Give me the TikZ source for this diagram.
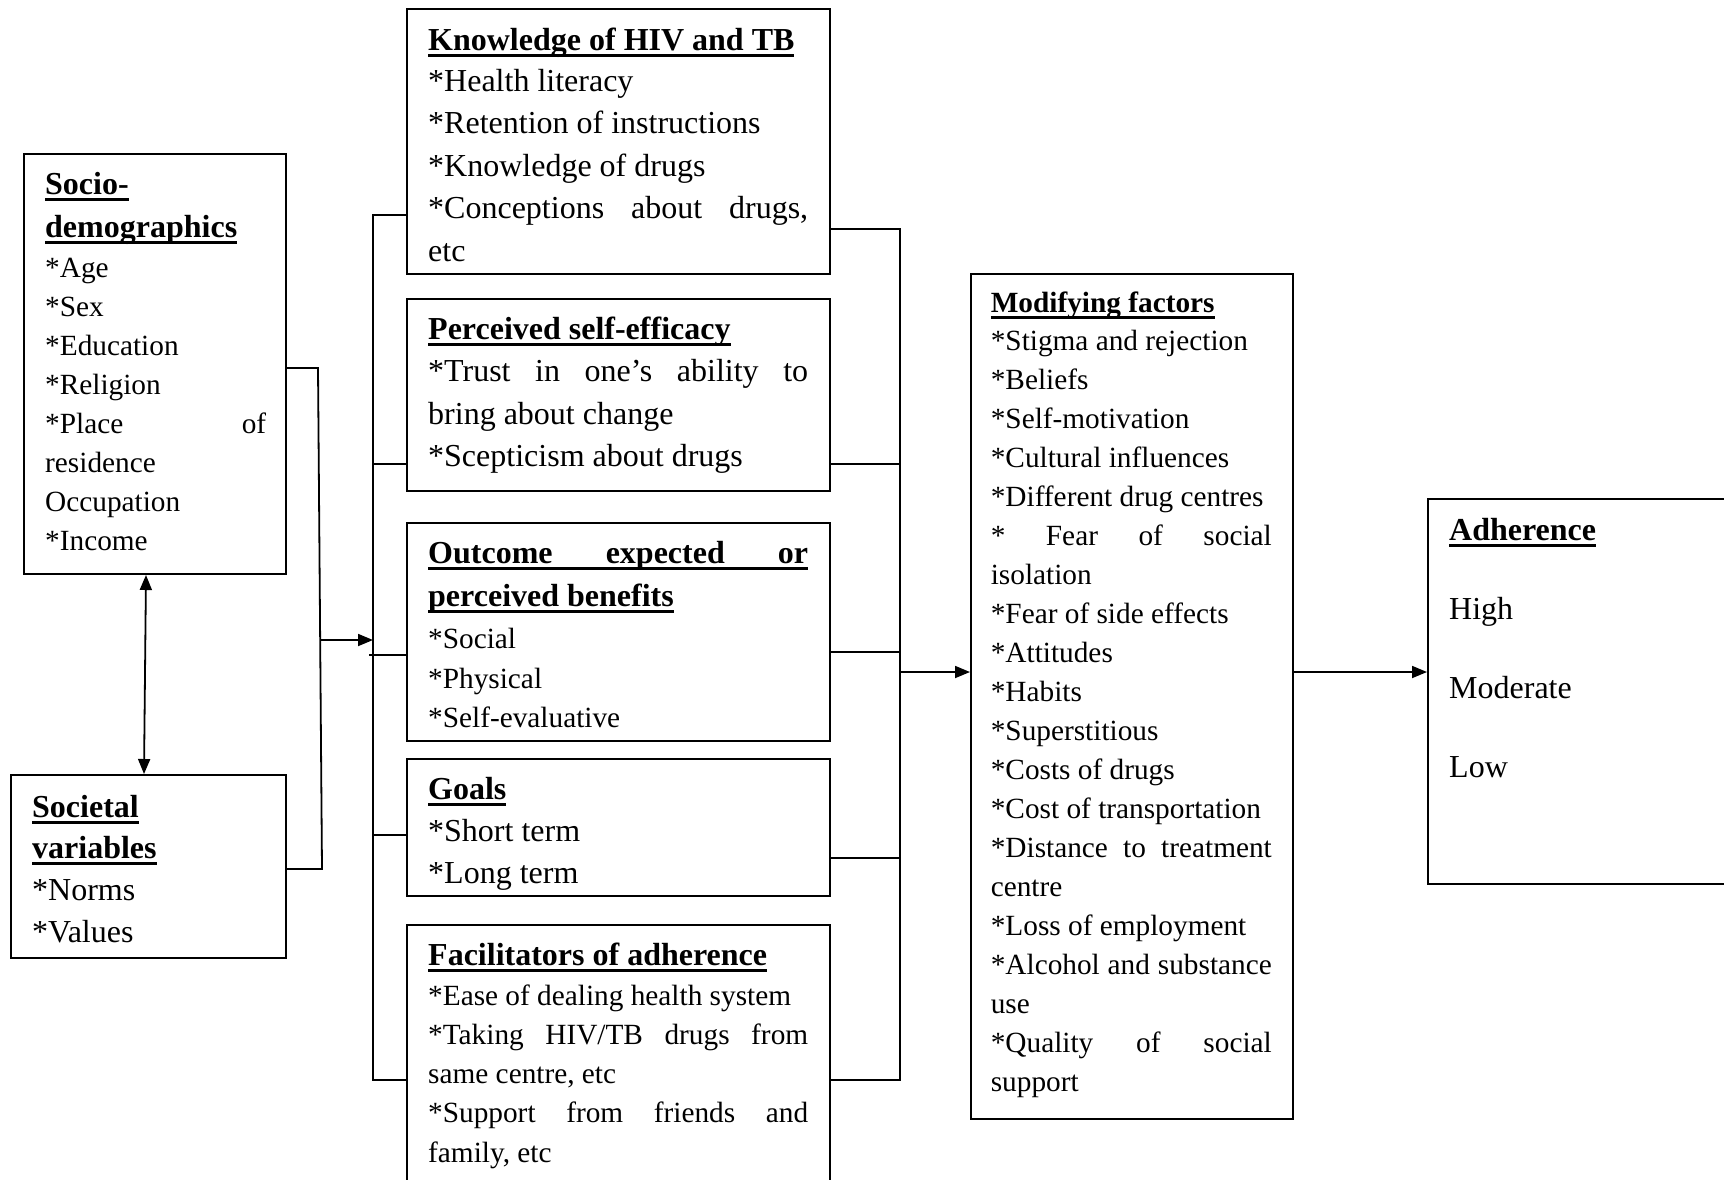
\documentclass[tikz,border=0pt]{standalone}
\usepackage{fontspec}
\setmainfont{Liberation Serif}
\usetikzlibrary{arrows.meta}
\newcommand\mkline[3]{{\fontsize{#1}{#2}\selectfont\spaceskip=0pt\xspaceskip=0pt\leavevmode #3\par}}
\newcommand\ulbf[1]{\setbox0=\hbox{\bfseries #1}\rlap{\rule[-0.23em]{\wd0}{0.11em}}\box0}
\newcommand\ulbfj[2]{\rlap{\rule[-0.23em]{#1}{0.11em}}\hbox to #1{\bfseries #2}}
\newcommand\jst[2]{\hbox to #1{#2}}
\tikzset{
  box/.style={draw, line width=2pt, inner sep=0pt},
  txt/.style={anchor=base west, inner sep=0pt, text width=#1},
  conn/.style={line width=1.8pt},
  arr/.style={line width=1.8pt, -{Triangle[length=15pt,width=12pt]}},
  darr/.style={line width=1.8pt, {Triangle[length=15pt,width=12pt]}-{Triangle[length=15pt,width=12pt]}}
}
\begin{document}
\begin{tikzpicture}[x=1pt,y=-1pt]
\useasboundingbox (0,0) rectangle (1724,1179);
\clip (0,0) rectangle (1724,1179);
\fill[white] (0,0) rectangle (1724,1179);

% boxes
\node[box, minimum width=262pt, minimum height=420pt] (socio) at (155,364) {};
\node[box, minimum width=275pt, minimum height=183pt] (societal) at (148.5,866.5) {};
\node[box, minimum width=423pt, minimum height=265pt] (know) at (618.5,141.5) {};
\node[box, minimum width=423pt, minimum height=192pt] (perc) at (618.5,395) {};
\node[box, minimum width=423pt, minimum height=218pt] (outc) at (618.5,632) {};
\node[box, minimum width=423pt, minimum height=137pt] (goals) at (618.5,827.5) {};
\node[box, minimum width=423pt, minimum height=295pt] (facil) at (618.5,1072.5) {};
\node[box, minimum width=322pt, minimum height=845pt] (modif) at (1132,696.5) {};
\node[box, minimum width=332pt, minimum height=385pt] (adher) at (1594,691.5) {};

% texts
\node[txt=224pt] (sociot) at (45,194) {\parskip=0pt
\mkline{32}{32}{\ulbf{Socio-}}
\mkline{32}{43}{\ulbf{demographics}}
\mkline{29.3}{40}{*Age}
\mkline{29.3}{39.1}{*Sex}
\mkline{29.3}{39.1}{*Education}
\mkline{29.3}{39.1}{*Religion}
\mkline{29.3}{39.1}{\jst{221pt}{*Place\hfill of}}
\mkline{29.3}{39.1}{residence}
\mkline{29.3}{39.1}{Occupation}
\mkline{29.3}{39.1}{*Income}};

\node[txt=240pt] (societalt) at (32,817) {\parskip=0pt
\mkline{32}{32}{\ulbf{Societal}}
\mkline{32}{41}{\ulbf{variables}}
\mkline{32}{42}{*Norms}
\mkline{32}{42}{*Values}};

\node[txt=383pt] (knowt) at (428,50) {\parskip=0pt
\mkline{32}{32}{\ulbf{Knowledge of HIV and TB}}
\mkline{32}{41}{*Health literacy}
\mkline{32}{42.5}{*Retention of instructions}
\mkline{32}{42.5}{*Knowledge of drugs}
\mkline{32}{42.5}{\jst{380pt}{*Conceptions\hfill about\hfill drugs,}}
\mkline{32}{42.5}{etc}};

\node[txt=383pt] (perct) at (428,339) {\parskip=0pt
\mkline{32}{32}{\ulbf{Perceived self-efficacy}}
\mkline{32}{42.5}{\jst{380pt}{*Trust\hfill in\hfill one’s\hfill ability\hfill to}}
\mkline{32}{42.5}{bring about change}
\mkline{32}{42.5}{*Scepticism about drugs}};

\node[txt=383pt] (outct) at (428,563) {\parskip=0pt
\mkline{32}{32}{\ulbfj{380pt}{Outcome\hfill expected\hfill or}}
\mkline{32}{43}{\ulbf{perceived benefits}}
\mkline{29.3}{42}{*Social}
\mkline{29.3}{40}{*Physical}
\mkline{29.3}{39}{*Self-evaluative}};

\node[txt=383pt] (goalst) at (428,799) {\parskip=0pt
\mkline{32}{32}{\ulbf{Goals}}
\mkline{32}{42}{*Short term}
\mkline{32}{42}{*Long term}};

\node[txt=383pt] (facilt) at (428,965) {\parskip=0pt
\mkline{32}{32}{\ulbf{Facilitators of adherence}}
\mkline{29.3}{40}{*Ease of dealing health system}
\mkline{29.3}{39.5}{\jst{380pt}{*Taking\hfill HIV/TB\hfill drugs\hfill from}}
\mkline{29.3}{38.5}{same centre, etc}
\mkline{29.3}{39}{\jst{380pt}{*Support\hfill from\hfill friends\hfill and}}
\mkline{29.3}{40}{family, etc}};

\node[txt=284pt] (modift) at (990.6,312) {\parskip=0pt
\mkline{29.3}{29.3}{\ulbf{Modifying factors}}
\mkline{29.3}{38.98}{*Stigma and rejection}
\mkline{29.3}{38.98}{*Beliefs}
\mkline{29.3}{38.98}{*Self-motivation}
\mkline{29.3}{38.98}{*Cultural influences}
\mkline{29.3}{38.98}{*Different drug centres}
\mkline{29.3}{38.98}{\jst{281pt}{*\hfill Fear\hfill of\hfill social}}
\mkline{29.3}{38.98}{isolation}
\mkline{29.3}{38.98}{*Fear of side effects}
\mkline{29.3}{38.98}{*Attitudes}
\mkline{29.3}{38.98}{*Habits}
\mkline{29.3}{38.98}{*Superstitious}
\mkline{29.3}{38.98}{*Costs of drugs}
\mkline{29.3}{38.98}{*Cost of transportation}
\mkline{29.3}{38.98}{\jst{281pt}{*Distance\hfill to\hfill treatment}}
\mkline{29.3}{38.98}{centre}
\mkline{29.3}{38.98}{*Loss of employment}
\mkline{29.3}{38.98}{\jst{281pt}{*Alcohol\hfill and\hfill substance}}
\mkline{29.3}{38.98}{use}
\mkline{29.3}{38.98}{\jst{281pt}{*Quality\hfill of\hfill social}}
\mkline{29.3}{38.98}{support}};

\node[txt=250pt] (adhert) at (1449,540) {\parskip=0pt
\mkline{32}{32}{\ulbf{Adherence}}
\mkline{32}{79}{High}
\mkline{32}{79}{Moderate}
\mkline{32}{79}{Low}};

% left side connectors
\coordinate (lj1) at (318,368);
\coordinate (lj2) at (322,869);
\coordinate (lja) at (320,640);
\draw[conn] (socio.east |- lj1) -- (lj1) -- (lj2) -- (societal.east |- lj2);
\draw[darr] ([xshift=-9pt]socio.south) -- ([xshift=-4.5pt]societal.north);

% left bracket
\coordinate (lT) at (373,215);
\coordinate (lB) at (373,1080);
\draw[arr] (lja) -- (lT |- lja);
\draw[conn] (know.west |- lT) -- (lT) -- (lB) -- (facil.west |- lB);
\draw[conn] (lT |- 0,464) -- (perc.west |- 0,464);
\draw[conn] ([xshift=-4pt]lT |- 0,655) -- (outc.west |- 0,655);
\draw[conn] (lT |- 0,835) -- (goals.west |- 0,835);

% right bracket
\coordinate (rT) at (900,229);
\coordinate (rB) at (900,1080);
\coordinate (ra) at (900,672);
\draw[conn] (know.east |- rT) -- (rT) -- (rB) -- (facil.east |- rB);
\draw[conn] (perc.east |- 0,464) -- (rT |- 0,464);
\draw[conn] (outc.east |- 0,652) -- (rT |- 0,652);
\draw[conn] (goals.east |- 0,858) -- (rT |- 0,858);
\draw[arr] (ra) -- (modif.west |- ra);
\draw[arr] (modif.east |- ra) -- (adher.west |- ra);
\end{tikzpicture}
\end{document}
